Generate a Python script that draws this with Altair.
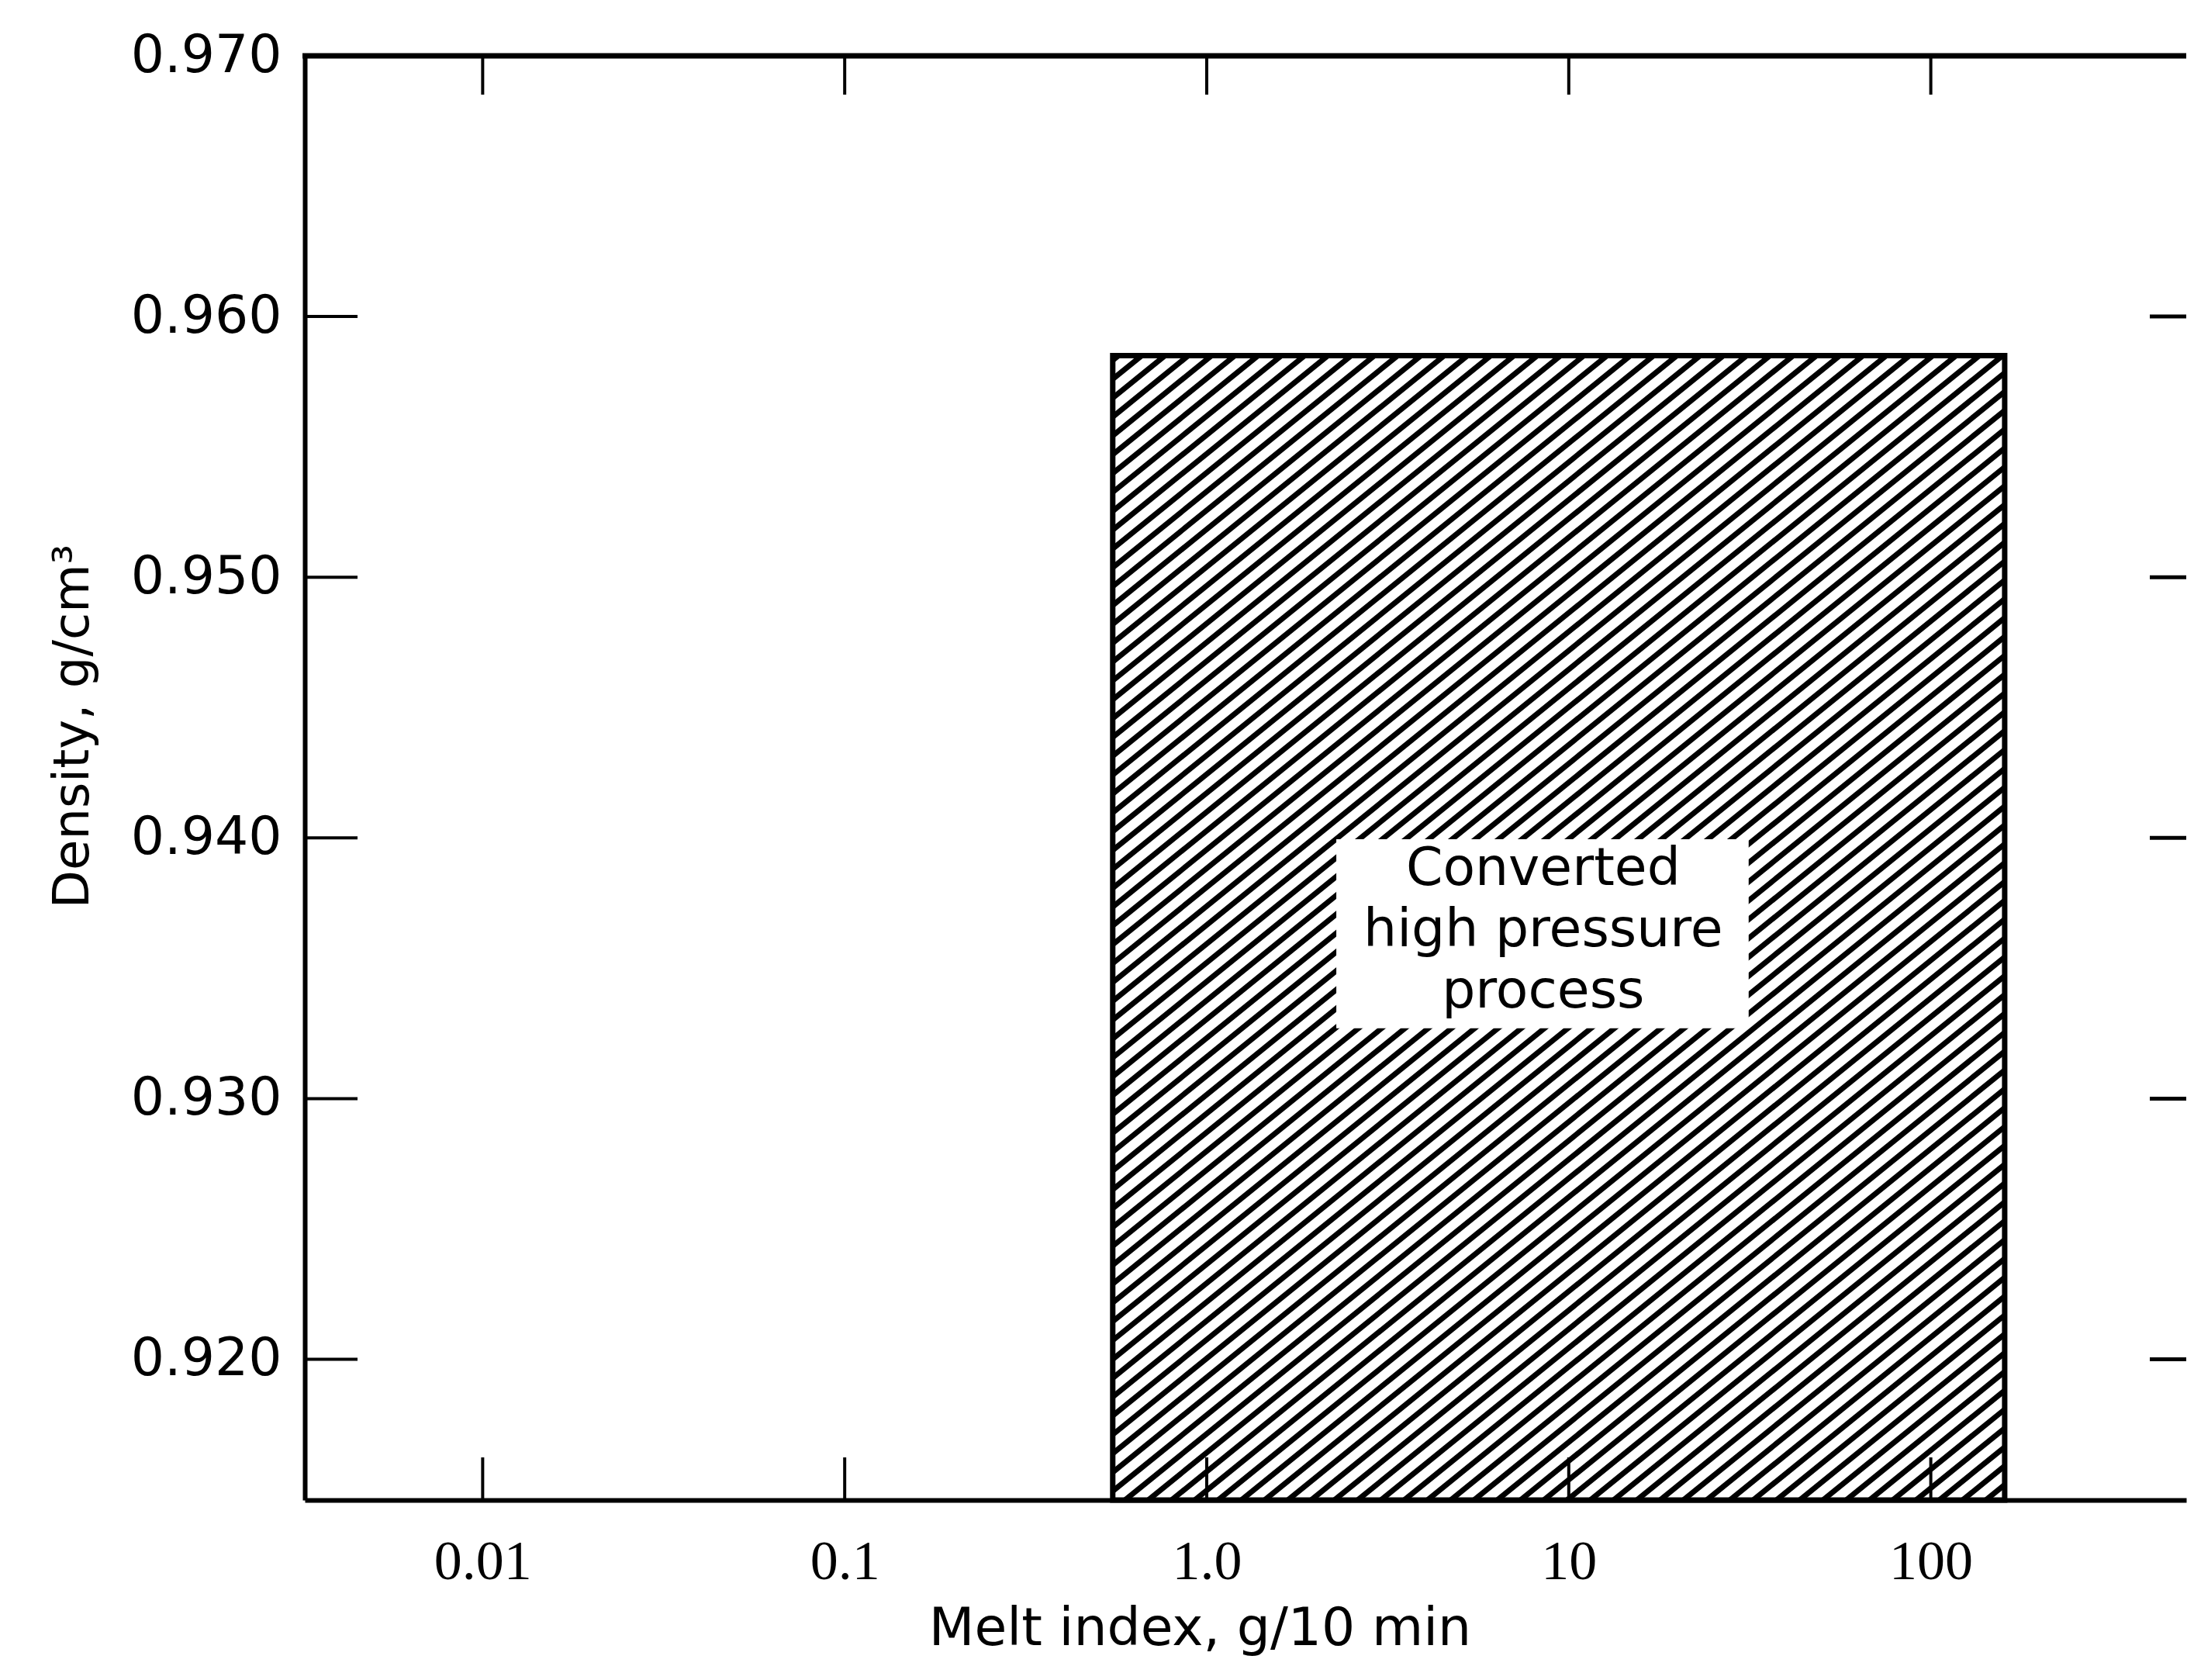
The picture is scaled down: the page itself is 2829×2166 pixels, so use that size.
import math
import json
import numpy as np
import pandas as pd
import altair as alt

# ---------------- data ----------------
X_TICKS = [0.01, 0.1, 1, 10, 100]
X_TICK_LABELS = ["0.01", "0.1", "1.0", "10", "100"]
Y_TICKS = [0.920, 0.930, 0.940, 0.950, 0.960, 0.970]

X_DOMAIN = [0.003226, 507.7]      # melt index, g/10 min (log)
Y_DOMAIN = [0.9146, 0.970]        # density, g/cm3

REGION_MI = [0.55, 160]           # converted high pressure process
REGION_D = [0.9146, 0.9585]

LABEL_BOX_MI = [2.28, 31.4]
LABEL_BOX_D = [0.9327, 0.93995]
LABEL_POS_MI = [8.5]
LABEL_POS_D = [0.9388]
LABEL_TEXT = ["Converted\nhigh pressure\nprocess"]

X_TITLE = "Melt index, g/10 min"
Y_TITLE = "Density, g/cm\u00b3"

# ---------------- layout / style ----------------
W, H = 2426, 1862
LX0, LX1 = math.log10(X_DOMAIN[0]), math.log10(X_DOMAIN[1])


def to_px(v):
    return (math.log10(v) - LX0) / (LX1 - LX0) * W


def to_py(d):
    return (Y_DOMAIN[1] - d) / (Y_DOMAIN[1] - Y_DOMAIN[0]) * H


def from_px(p):
    return 10 ** (LX0 + p / W * (LX1 - LX0))


def from_py(p):
    return Y_DOMAIN[1] - p / H * (Y_DOMAIN[1] - Y_DOMAIN[0])


# hatch pattern (decoration) for the shaded region, built in screen space
t = 0.81
step = 30 * t
x0p, x1p = to_px(REGION_MI[0]), to_px(REGION_MI[1])
ytp, ybp = to_py(REGION_D[1]), to_py(REGION_D[0])
cmin, cmax = ytp + t * x0p, ybp + t * x1p
segs = []
for c in np.arange(cmin + 6, cmax, step):
    a = max(x0p, (c - ybp) / t)
    b = min(x1p, (c - ytp) / t)
    if b > a:
        segs.append({
            "mi": from_px(a), "d": from_py(c - t * a),
            "mi2": from_px(b), "d2": from_py(c - t * b),
        })
hatch_df = pd.DataFrame(segs)

xs = alt.Scale(type="log", domain=X_DOMAIN, nice=False)
ys = alt.Scale(domain=Y_DOMAIN, nice=False, zero=False)

label_expr = f"{json.dumps(X_TICK_LABELS)}[indexof({json.dumps(X_TICKS)}, datum.value)]"

X_AXIS = alt.Axis(
    values=X_TICKS, labelExpr=label_expr, ticks=False, grid=False,
    domainColor="black", domainWidth=6, labelPadding=44,
    labelFont="Liberation Serif", labelFontSize=72, labelColor="black",
    labelOverlap=False, labelFlush=False, labelLimit=0,
    title=X_TITLE, titleFont="DejaVu Sans", titleFontSize=68,
    titleFontWeight="normal", titleColor="black",
    titleX=1154, titleY=186, titleBaseline="alphabetic", titleAlign="center",
)
Y_AXIS = alt.Axis(
    values=Y_TICKS, format=".3f", ticks=False, grid=False,
    domainColor="black", domainWidth=6, labelPadding=30,
    labelFont="DejaVu Sans", labelFontSize=68, labelColor="black",
    labelOverlap=False, labelLimit=0, labelFlush=False,
    title=Y_TITLE, titleFont="DejaVu Sans", titleFontSize=64,
    titleFontWeight="normal", titleColor="black",
    titleAngle=270, titleX=-299, titleY=864, titleAlign="center",
    titleBaseline="middle",
)

hatch = alt.Chart(hatch_df).mark_rule(color="black", strokeWidth=7).encode(
    x=alt.X("mi:Q", scale=xs, axis=X_AXIS),
    y=alt.Y("d:Q", scale=ys, axis=Y_AXIS),
    x2="mi2:Q", y2="d2:Q",
)

box_df = pd.DataFrame({"mi": [LABEL_BOX_MI[0]], "mi2": [LABEL_BOX_MI[1]],
                       "d": [LABEL_BOX_D[0]], "d2": [LABEL_BOX_D[1]]})
box = alt.Chart(box_df).mark_rect(color="white").encode(
    x=alt.X("mi:Q", scale=xs, axis=X_AXIS),
    y=alt.Y("d:Q", scale=ys, axis=Y_AXIS),
    x2="mi2:Q", y2="d2:Q",
)

text_df = pd.DataFrame({"mi": LABEL_POS_MI, "d": LABEL_POS_D, "txt": LABEL_TEXT})
text = alt.Chart(text_df).mark_text(
    lineBreak="\n", font="DejaVu Sans", fontSize=68, lineHeight=79,
    align="center", baseline="middle", color="black",
).encode(
    x=alt.X("mi:Q", scale=xs, axis=X_AXIS),
    y=alt.Y("d:Q", scale=ys, axis=Y_AXIS),
    text="txt:N",
)

region_df = pd.DataFrame({"mi": [REGION_MI[0]], "mi2": [REGION_MI[1]],
                          "d": [REGION_D[0]], "d2": [REGION_D[1]]})
region = alt.Chart(region_df).mark_rect(
    fillOpacity=0, stroke="black", strokeWidth=7,
).encode(
    x=alt.X("mi:Q", scale=xs, axis=X_AXIS),
    y=alt.Y("d:Q", scale=ys, axis=Y_AXIS),
    x2="mi2:Q", y2="d2:Q",
)

xt_df = pd.DataFrame({"mi": X_TICKS})
top_ticks = alt.Chart(xt_df).mark_rule(color="black", strokeWidth=4).encode(
    x=alt.X("mi:Q", scale=xs, axis=X_AXIS),
    y=alt.value(0), y2=alt.value(50),
)
bottom_ticks = alt.Chart(xt_df).mark_rule(color="black", strokeWidth=4).encode(
    x=alt.X("mi:Q", scale=xs, axis=X_AXIS),
    y=alt.value(H), y2=alt.value(H - 55),
)

yt_df = pd.DataFrame({"d": Y_TICKS[:-1]})
left_ticks = alt.Chart(yt_df).mark_rule(color="black", strokeWidth=4).encode(
    y=alt.Y("d:Q", scale=ys, axis=Y_AXIS),
    x=alt.value(0), x2=alt.value(68),
)
right_ticks = alt.Chart(yt_df).mark_rule(color="black", strokeWidth=5).encode(
    y=alt.Y("d:Q", scale=ys, axis=Y_AXIS),
    x=alt.value(W - 47), x2=alt.value(W),
)

top_border = alt.Chart(pd.DataFrame({"k": [0]})).mark_rule(
    color="black", strokeWidth=7
).encode(x=alt.value(-3), x2=alt.value(W), y=alt.value(0))

chart = alt.layer(
    hatch, box, text, region, top_ticks, bottom_ticks, left_ticks,
    right_ticks, top_border,
).properties(
    width=W, height=H,
    autosize=alt.AutoSizeParams(type="none"),
    padding={"left": 385, "top": 64, "right": 2, "bottom": 210},
    background="white",
).configure_view(strokeWidth=0)

chart.save("out.html", embed_options={"renderer": "svg", "actions": False})
